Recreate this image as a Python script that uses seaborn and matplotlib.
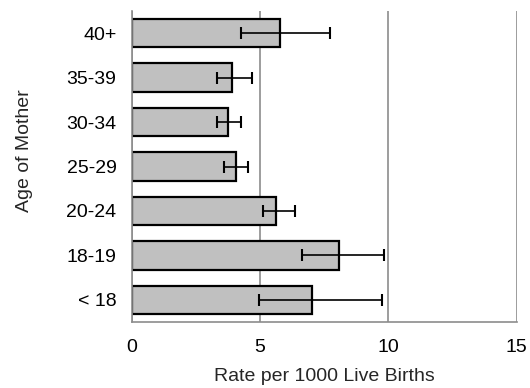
""" Rate per 1000 live births by age of mother, horizontal bar chart. """

import numpy as np
import matplotlib as mpl
mpl.use("Agg")
import matplotlib.pyplot as plt
import pandas as pd
import seaborn as sns

ages = ["40+", "35-39", "30-34", "25-29", "20-24", "18-19", "< 18"]
rates = [5.78, 3.92, 3.75, 4.05, 5.62, 8.09, 7.02]
ci_low = [4.26, 3.32, 3.32, 3.61, 5.12, 6.63, 4.96]
ci_high = [7.72, 4.70, 4.26, 4.54, 6.37, 9.83, 9.75]


def main():
    sns.set_style("white")
    plt.rcParams["font.family"] = ["Liberation Sans", "DejaVu Sans"]
    plt.rc("font", size=14)

    df = pd.DataFrame({"age": ages, "rate": rates})
    fig = plt.figure(figsize=(5.3, 3.88), dpi=100)
    ax = fig.add_axes([0.2485, 0.170, 0.7265, 0.8016])

    sns.barplot(data=df, x="rate", y="age", orient="h", color="#c0c0c0",
                edgecolor="black", linewidth=1.6, width=0.64, saturation=1,
                ax=ax, zorder=2)
    rates_arr = np.array(rates)
    xerr = np.vstack([rates_arr - np.array(ci_low), np.array(ci_high) - rates_arr])
    ax.errorbar(rates_arr, np.arange(len(ages)), xerr=xerr, fmt="none",
                ecolor="black", elinewidth=1.2, capsize=4.5, capthick=1.5, zorder=3)

    ax.set_xlim(0, 15)
    ax.set_ylim(len(ages) - 0.5, -0.5)
    ax.set_xticks([0, 5, 10, 15])
    ax.xaxis.grid(True, color="#8c8c8c", linewidth=1.2, zorder=0)
    ax.set_axisbelow(True)

    ax.set_yticks(np.arange(-0.5, len(ages), 1), minor=True)
    ax.tick_params(axis="y", which="major", length=0, pad=11)
    ax.tick_params(axis="y", which="minor", length=5, color="#8c8c8c", width=1.2)
    ax.tick_params(axis="x", which="major", length=5, color="#8c8c8c", width=1.2, pad=7)
    ax.tick_params(colors="black", labelsize=14)

    for side in ["top", "right"]:
        ax.spines[side].set_visible(False)
    for side in ["left", "bottom"]:
        ax.spines[side].set_color("#8c8c8c")
        ax.spines[side].set_linewidth(1.2)

    ax.set_xlabel("Rate per 1000 Live Births", fontsize=14, labelpad=9)
    ax.set_ylabel("Age of Mother", fontsize=14, labelpad=24)
    ax.yaxis.label.set_y(0.55)

    fig.savefig("out.png", dpi=100)


if __name__ == "__main__":
    main()
